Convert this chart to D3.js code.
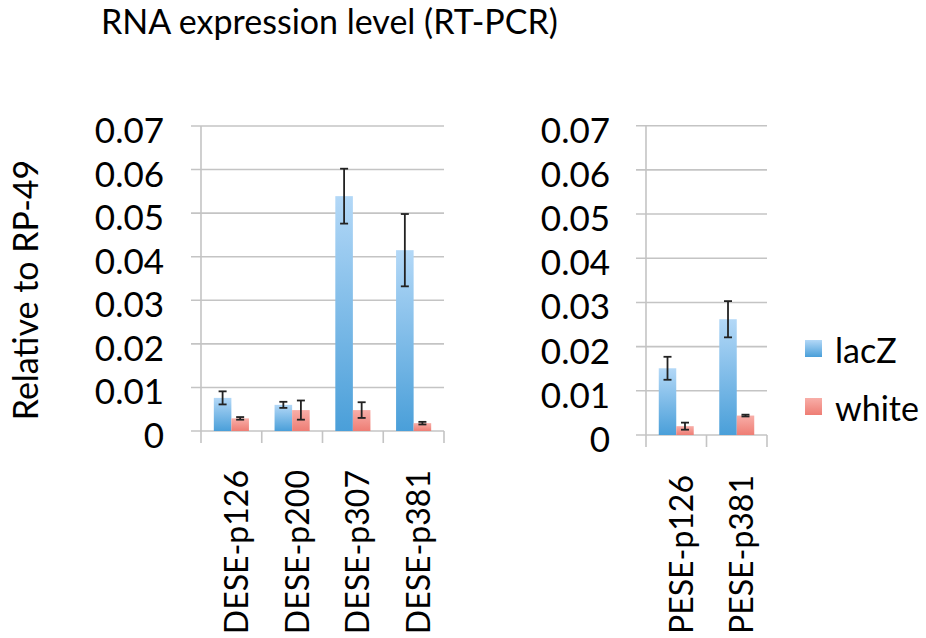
<!DOCTYPE html>
<html><head><meta charset="utf-8">
<script src="https://cdn.jsdelivr.net/npm/d3@7"></script>
<style>body{margin:0;background:#fff}svg{display:block}text{font-family:Lato,"Open Sans",sans-serif;fill:#000}</style>
</head><body><svg id="c" width="926" height="638"></svg>
<script>
const series = ["lacZ", "white"];
const leftCats = ["DESE-p126", "DESE-p200", "DESE-p307", "DESE-p381"];
const leftLacZ = [0.0076, 0.0060, 0.0539, 0.0415];
const leftLacZErr = [0.0015, 0.0007, 0.0063, 0.0083];
const leftWhite = [0.0029, 0.0048, 0.0048, 0.0018];
const leftWhiteErr = [0.0003, 0.0022, 0.0018, 0.0003];
const rightCats = ["PESE-p126", "PESE-p381"];
const rightLacZ = [0.0151, 0.0262];
const rightLacZErr = [0.0026, 0.0041];
const rightWhite = [0.0020, 0.0044];
const rightWhiteErr = [0.0008, 0.0002];
const yTicks = [0, 0.01, 0.02, 0.03, 0.04, 0.05, 0.06, 0.07];
const yTickLabels = ["0", "0.01", "0.02", "0.03", "0.04", "0.05", "0.06", "0.07"];
const title = "RNA expression level (RT-PCR)";
const yTitle = "Relative to RP-49";

const svg = d3.select("#c");
const defs = svg.append("defs");
function grad(id, top, bottom){
  const g = defs.append("linearGradient").attr("id", id).attr("x1",0).attr("y1",0).attr("x2",0).attr("y2",1);
  g.append("stop").attr("offset","0%").attr("stop-color",top);
  g.append("stop").attr("offset","100%").attr("stop-color",bottom);
}
grad("gBlue", "#b3d8f7", "#4a9fd9");
grad("gRed", "#f8aea8", "#ee7d74");
const fills = {lacZ: "url(#gBlue)", white: "url(#gRed)"};
const gridColor = "#c4c4c4";

function panel(cats, lac, lacE, wh, whE, x0, x1, yBottom, yTop, labelRight, catTop){
  const g = svg.append("g");
  const x = d3.scaleBand().domain(cats).range([x0, x1]).paddingInner(0).paddingOuter(0);
  const xs = d3.scaleBand().domain(series).range([0, x.bandwidth()]).paddingInner(0).paddingOuter(0.73);
  const y = d3.scaleLinear().domain([0, 0.07]).range([yBottom, yTop]);
  g.selectAll("line.grid").data(yTicks).join("line")
    .attr("x1", x0 - 10).attr("x2", x1).attr("y1", d => y(d)).attr("y2", d => y(d))
    .attr("stroke", gridColor).attr("stroke-width", 1.6);
  g.append("line").attr("x1", x0).attr("x2", x0).attr("y1", y(0.07)).attr("y2", yBottom + 12)
    .attr("stroke", gridColor).attr("stroke-width", 1.6);
  const bounds = cats.map(c => x(c) + x.bandwidth());
  g.selectAll("line.ct").data(bounds).join("line")
    .attr("x1", d => d).attr("x2", d => d).attr("y1", yBottom).attr("y2", yBottom + 12)
    .attr("stroke", gridColor).attr("stroke-width", 1.6);
  g.selectAll("text.yl").data(yTicks).join("text")
    .attr("x", labelRight).attr("y", d => y(d) + 3)
    .attr("text-anchor", "end").attr("dominant-baseline", "central")
    .style("font-size", "35px")
    .text((d, i) => yTickLabels[i]);
  const rows = [];
  cats.forEach((c, i) => {
    rows.push({c, s: "lacZ", v: lac[i], e: lacE[i]});
    rows.push({c, s: "white", v: wh[i], e: whE[i]});
  });
  g.selectAll("rect.bar").data(rows).join("rect")
    .attr("x", d => x(d.c) + xs(d.s)).attr("width", xs.bandwidth())
    .attr("y", d => y(d.v)).attr("height", d => yBottom - y(d.v))
    .attr("fill", d => fills[d.s]);
  const eb = g.selectAll("g.eb").data(rows).join("g");
  eb.append("line")
    .attr("x1", d => x(d.c) + xs(d.s) + xs.bandwidth()/2).attr("x2", d => x(d.c) + xs(d.s) + xs.bandwidth()/2)
    .attr("y1", d => y(d.v + d.e)).attr("y2", d => y(d.v - d.e))
    .attr("stroke", "#222").attr("stroke-width", 1.8);
  [1, -1].forEach(sg => {
    eb.append("line")
      .attr("x1", d => x(d.c) + xs(d.s) + xs.bandwidth()/2 - 4).attr("x2", d => x(d.c) + xs(d.s) + xs.bandwidth()/2 + 4)
      .attr("y1", d => y(d.v + sg*d.e)).attr("y2", d => y(d.v + sg*d.e))
      .attr("stroke", "#222").attr("stroke-width", 1.8);
  });
  g.selectAll("text.cl").data(cats).join("text")
    .attr("transform", d => `translate(${x(d) + x.bandwidth()/2 + 4},${catTop}) rotate(-90)`)
    .attr("text-anchor", "end").attr("dominant-baseline", "central")
    .style("font-size", "32px")
    .text(d => d);
}

panel(leftCats, leftLacZ, leftLacZErr, leftWhite, leftWhiteErr, 201, 444, 431, 126, 164, 470);
panel(rightCats, rightLacZ, rightLacZErr, rightWhite, rightWhiteErr, 646, 767, 435, 125.7, 610, 475);

svg.append("text").attr("x", 101).attr("y", 34).style("font-size", "34px").text(title);
svg.append("text").attr("transform", "translate(38,290) rotate(-90)")
  .attr("text-anchor", "middle")
  .style("font-size", "34px").text(yTitle);

const leg = svg.append("g");
const legY = [349, 407];
series.forEach((s, i) => {
  leg.append("rect").attr("x", 805).attr("y", legY[i] - 9).attr("width", 17).attr("height", 17).attr("fill", fills[s]);
  leg.append("text").attr("x", 835).attr("y", legY[i]).attr("dominant-baseline", "central")
    .style("font-size", "34px").text(s);
});
</script></body></html>
